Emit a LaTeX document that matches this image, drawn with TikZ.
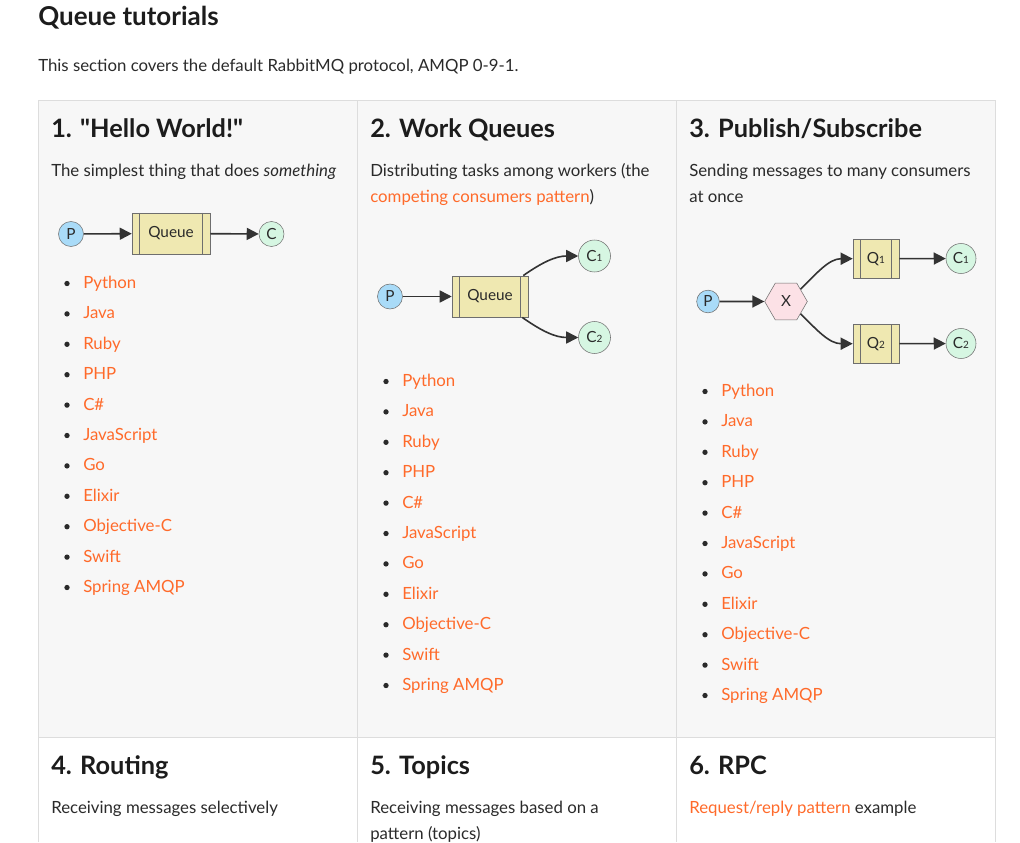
\documentclass[tikz,border=0pt]{standalone}
\usepackage{fontspec}
\setmainfont{Lato}
\usepackage{tikz}
\usetikzlibrary{arrows.meta,positioning,calc,shapes.geometric}
\definecolor{fondgris}{HTML}{F7F7F7}
\definecolor{bordure}{HTML}{DDDDDD}
\definecolor{corps}{HTML}{2A2A2A}
\definecolor{titre}{HTML}{1C1C1C}
\definecolor{lien}{HTML}{FF6A2A}
\definecolor{bleu}{HTML}{A9DBF8}
\definecolor{vert}{HTML}{D6F6E2}
\definecolor{jaune}{HTML}{EFE8B1}
\definecolor{rose}{HTML}{FCE1E6}
\definecolor{trait}{HTML}{6E6E6E}
\definecolor{noirfleche}{HTML}{333333}

\begin{document}
\begin{tikzpicture}[x=0.75pt,y=-0.75pt]
\tikzstyle{fleche}=[-{Triangle[length=9pt,width=9pt]},line width=1.2pt,draw=noirfleche]
\tikzstyle{producteur}=[circle,draw=trait,fill=bleu,inner sep=0pt,minimum size=18pt,font=\fontsize{11.5}{13}\selectfont,text=corps]
\tikzstyle{consommateur}=[circle,draw=trait,fill=vert,inner sep=0pt,minimum size=18pt,font=\fontsize{11.5}{13}\selectfont,text=corps]
\tikzstyle{file}=[draw=trait,fill=jaune,inner sep=0pt,font=\fontsize{11.5}{13}\selectfont,text=corps,
  path picture={\draw[trait] ($(path picture bounding box.north west)+(5.8pt,0)$) -- ($(path picture bounding box.south west)+(5.8pt,0)$);
                \draw[trait] ($(path picture bounding box.north east)+(-5.8pt,0)$) -- ($(path picture bounding box.south east)+(-5.8pt,0)$);}]
\tikzstyle{echangeur}=[regular polygon,regular polygon sides=6,draw=trait,fill=rose,inner sep=0pt,minimum size=32pt,font=\fontsize{11.5}{13}\selectfont,text=corps]
\tikzstyle{grandtitre}=[anchor=base west,inner sep=0pt,font=\fontsize{19.5}{23}\bfseries,text=titre]
\tikzstyle{entete}=[anchor=base west,inner sep=0pt,font=\fontsize{19}{23}\bfseries,text=titre]
\tikzstyle{texte}=[anchor=base west,inner sep=0pt,font=\fontsize{12.6}{15}\selectfont,text=corps]
\tikzstyle{langage}=[anchor=base west,inner sep=0pt,font=\fontsize{12.6}{15}\selectfont,text=lien]
\tikzstyle{puce}=[circle,fill=corps,inner sep=0pt,minimum size=4pt]
\tikzstyle{cadre}=[draw=bordure,line width=0.75pt]
\def\ColA{51}
\def\ColB{370}
\def\ColC{689}
\def\InterLignes{30.4}
\def\Indice#1{{\fontsize{7.5}{8}\selectfont #1}}
\useasboundingbox (0,0) rectangle (1020,842);
% tableau
\fill[fondgris] (38,100) rectangle (995,737);
\draw[cadre] (38,842) -- (38,100) -- (995,100) -- (995,842);
\draw[cadre] (38,737) -- (995,737);
\draw[cadre] (357,100) -- (357,842);
\draw[cadre] (676,100) -- (676,842);
% en-tete
\node[grandtitre] (Titre) at (38,26) {Queue tutorials};
\node[texte] (Intro) at (38,71.5) {This section covers the default RabbitMQ protocol, AMQP 0-9-1.};
% colonne 1
\node[entete] (TA) at (\ColA,137) {1. \textquotedbl Hello World!\textquotedbl};
\node[texte] (DA) at (\ColA,176.5) {The simplest thing that does \emph{something}};
\node[producteur,minimum size=18.75pt] (PA) at (71,234) {P};
\node[file,minimum width=58.5pt,minimum height=31pt] (QA) at (171,233.5) {Queue};
\node[consommateur,minimum size=18.75pt] (CA) at (271.5,234) {C};
\draw[fleche] (PA)--(QA);
\draw[fleche] (QA)--(CA);
% colonne 2
\node[entete] (TB) at (\ColB,137) {2. Work Queues};
\node[texte] (DB) at (\ColB,176.5) {Distributing tasks among workers (the};
\node[texte] (DBb) at (\ColB,202.5) {{\color{lien}competing consumers pattern})};
\node[producteur,minimum size=18.75pt] (PB) at (390,296.5) {P};
\node[file,minimum width=57pt,minimum height=31pt] (QB) at (490,296.5) {Queue};
\node[consommateur,minimum size=24pt] (CBa) at (594.5,256) {C\Indice{1}};
\node[consommateur,minimum size=24pt] (CBb) at (594.5,337.5) {C\Indice{2}};
\draw[fleche] (PB)--(QB);
\draw[fleche] ($(QB.north east)+(-5,0)$) to[out=35,in=180] (CBa.west);
\draw[fleche] ($(QB.south east)+(-6,0)$) to[out=-35,in=180] (CBb.west);
% colonne 3
\node[entete] (TC) at (\ColC,137) {3. Publish/Subscribe};
\node[texte] (DC) at (\ColC,176.5) {Sending messages to many consumers};
\node[texte] (DCb) at (\ColC,202.5) {at once};
\node[producteur,minimum size=17pt] (PC) at (708,301.5) {P};
\node[echangeur] (X) at (786,301.5) {X};
\node[file,minimum width=34.5pt,minimum height=29.5pt] (QCa) at (876,258.7) {Q\Indice{1}};
\node[file,minimum width=34.5pt,minimum height=29.5pt] (QCb) at (876,343.7) {Q\Indice{2}};
\node[consommateur,minimum size=22.5pt] (CCa) at (961,258.5) {C\Indice{1}};
\node[consommateur,minimum size=22.5pt] (CCb) at (961,343.5) {C\Indice{2}};
\draw[fleche] (PC)--(X);
\draw[fleche] (X.40) to[out=45,in=180] (QCa.west);
\draw[fleche] (X.-40) to[out=-45,in=180] (QCb.west);
\draw[fleche] (QCa)--(CCa);
\draw[fleche] (QCb)--(CCb);
% listes des langages
\foreach \lang [count=\i from 0] in {Python,Java,Ruby,PHP,C\#,JavaScript,Go,Elixir,Objective-C,Swift,Spring AMQP} {
  \node[puce] (BA\i) at (67,{283.5+\InterLignes*\i}) {};
  \node[langage] (LA\i) at (83,{288.5+\InterLignes*\i}) {\lang};
  \node[puce] (BB\i) at (386,{381.5+\InterLignes*\i}) {};
  \node[langage] (LB\i) at (402,{386.5+\InterLignes*\i}) {\lang};
  \node[puce] (BC\i) at (705,{391.5+\InterLignes*\i}) {};
  \node[langage] (LC\i) at (721,{396.5+\InterLignes*\i}) {\lang};
}
% deuxieme rangee
\node[entete] (TD) at (\ColA,774) {4. Routing};
\node[texte] (DD) at (\ColA,813.5) {Receiving messages selectively};
\node[entete] (TE) at (\ColB,774) {5. Topics};
\node[texte] (DE) at (\ColB,813.5) {Receiving messages based on a};
\node[texte] (DEb) at (\ColB,839.5) {pattern (topics)};
\node[entete] (TF) at (\ColC,774) {6. RPC};
\node[texte] (DF) at (\ColC,813.5) {{\color{lien}Request/reply pattern} example};
\end{tikzpicture}
\end{document}
